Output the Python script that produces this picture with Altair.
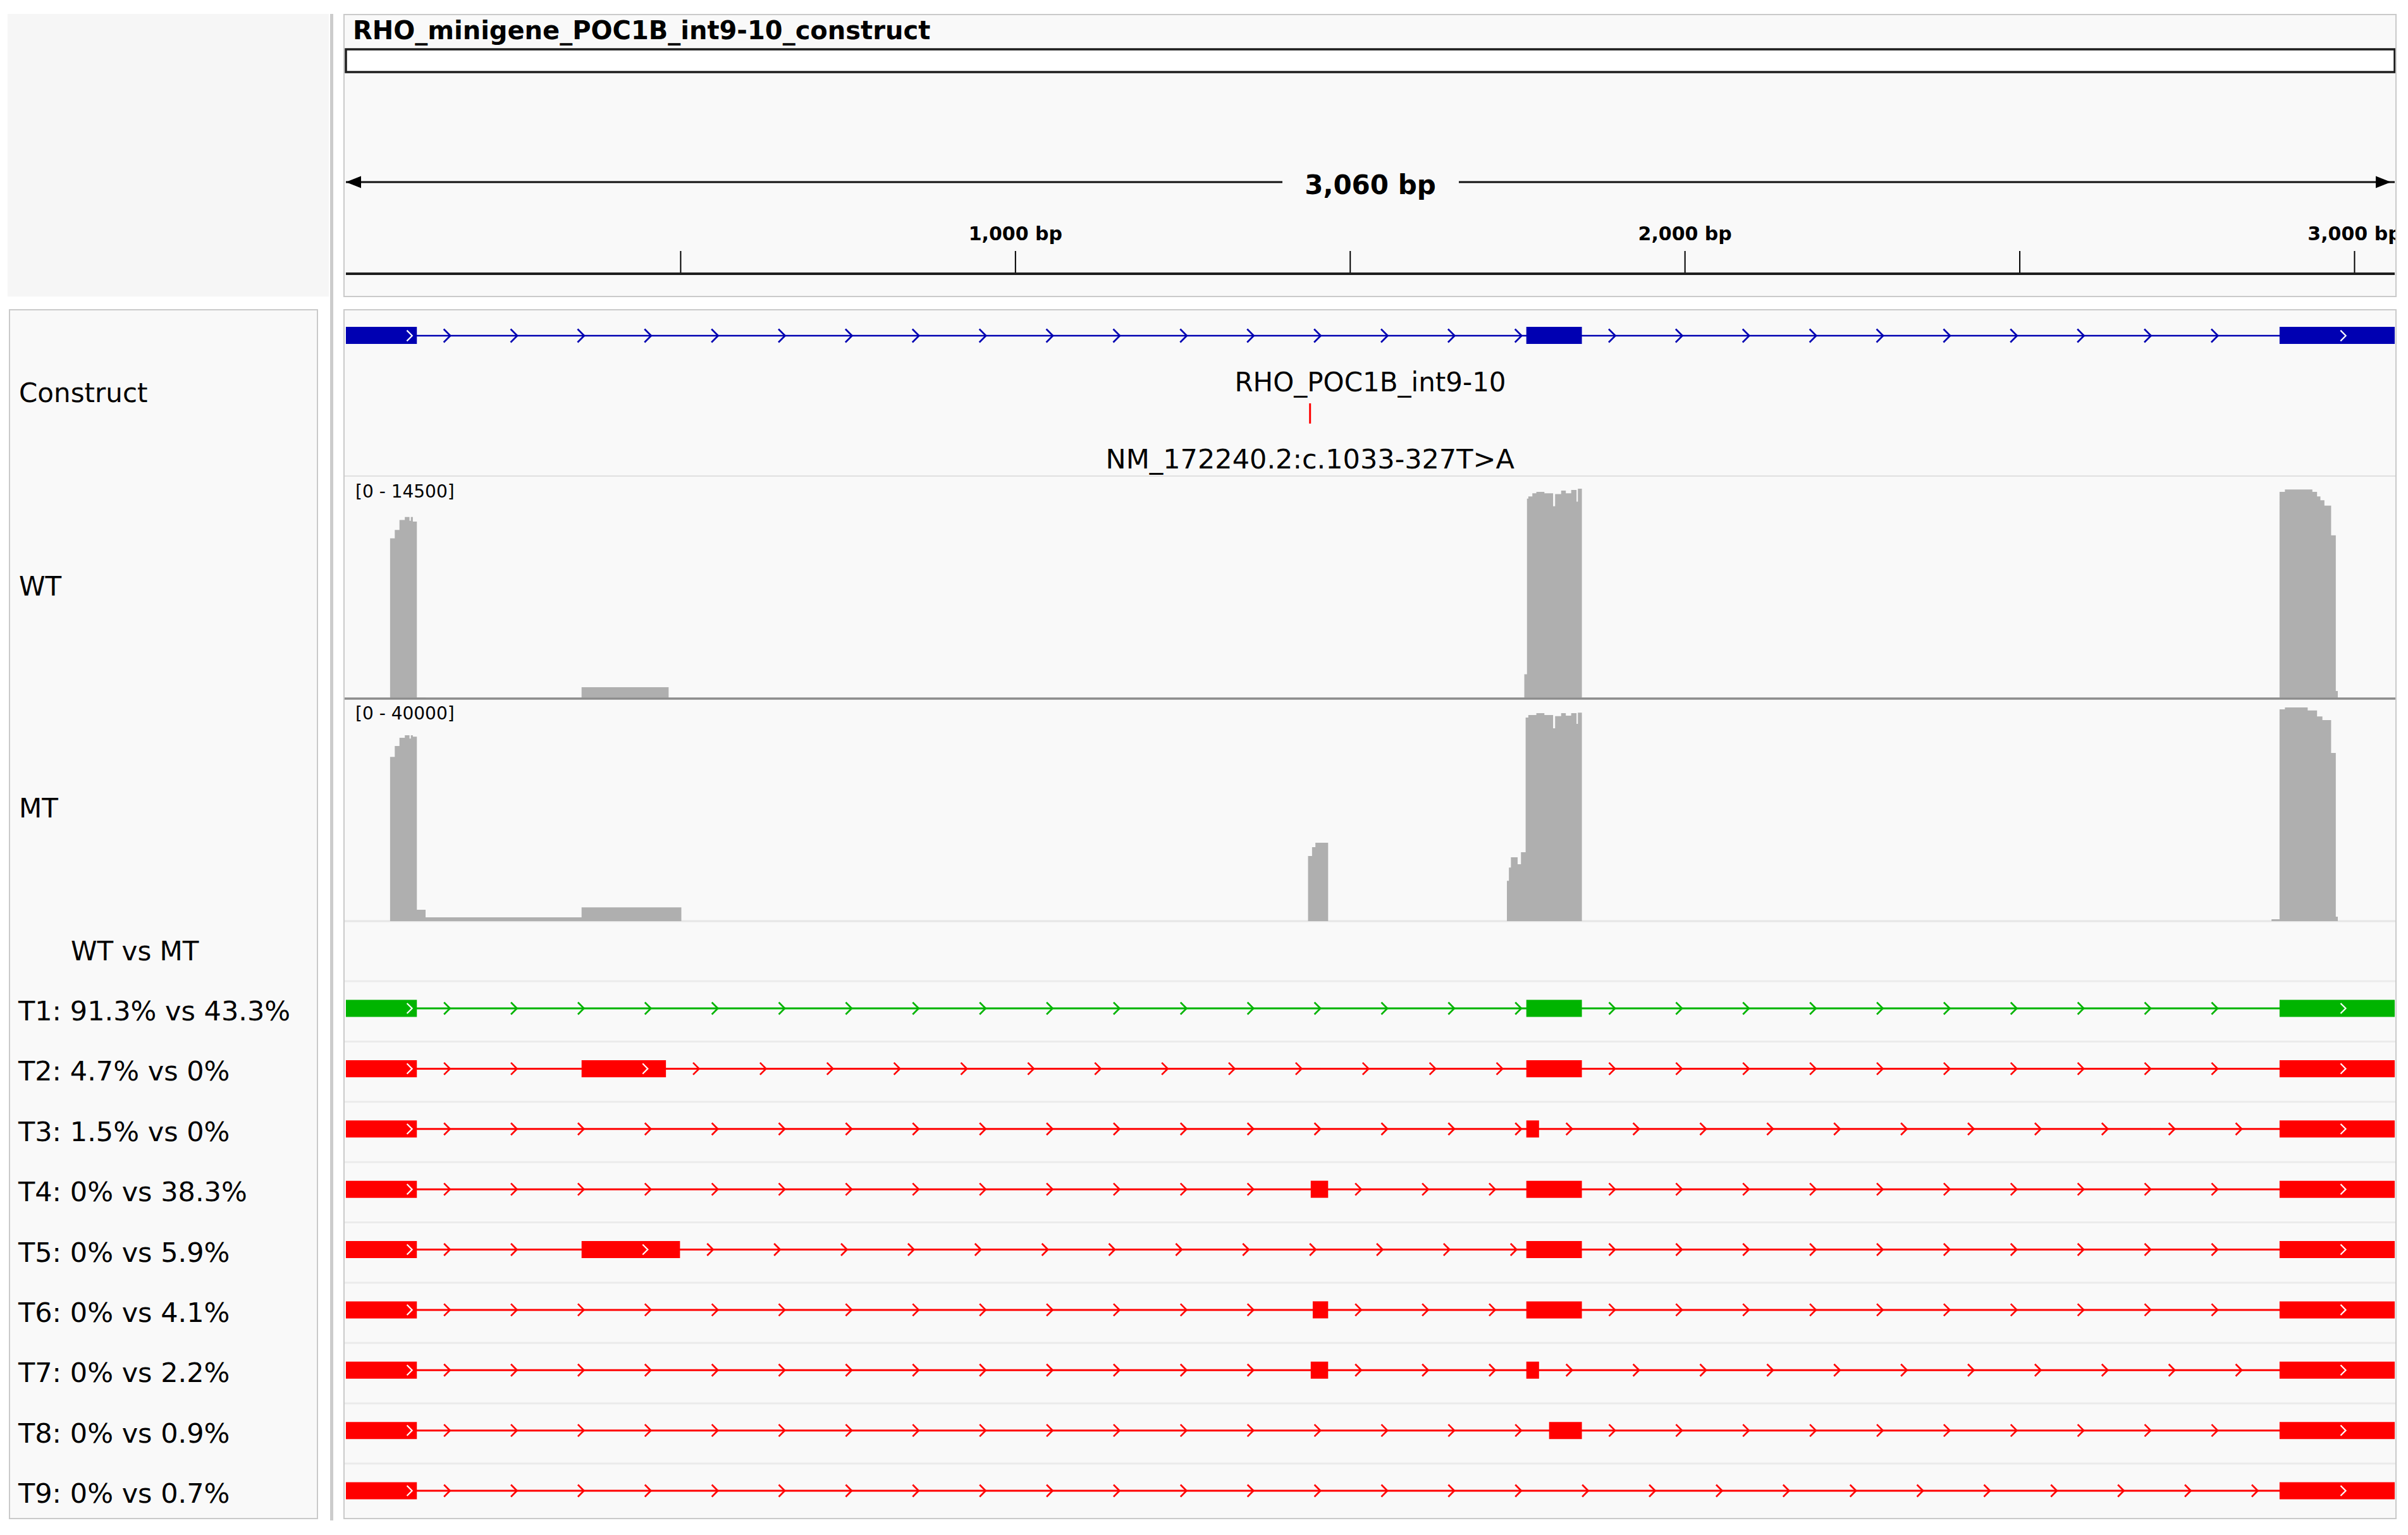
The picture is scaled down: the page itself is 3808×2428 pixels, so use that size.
import altair as alt
import pandas as pd

# ------------------------------------------------------------------ values
construct_name = "RHO_minigene_POC1B_int9-10_construct"
feature_name = "RHO_POC1B_int9-10"
variant_label = "NM_172240.2:c.1033-327T>A"
span_label = "3,060 bp"
construct_length = 3060
variant_pos = 1440

ruler_ticks = [500, 1000, 1500, 2000, 2500, 3000]
ruler_label_pos = [1000, 2000, 3000]
ruler_label_text = ["1,000 bp", "2,000 bp", "3,000 bp"]

track_labels = ["Construct", "WT", "MT"]
compare_label = "WT vs MT"

construct_exon_start = [0, 1763, 2888]
construct_exon_end = [106, 1846, 3060]

wt_range_label = "[0 - 14500]"
wt_range_max = 14500
wt_cov_start = [0, 66, 73, 80, 88, 95, 97, 100, 106, 119, 352, 482,
                1760, 1764, 1766, 1772, 1778, 1790, 1803, 1806, 1815, 1822, 1830, 1838, 1840, 1846,
                2888, 2896, 2937, 2944, 2949, 2955, 2965, 2972, 2975]
wt_cov_value = [0, 10500, 11050, 11700, 11900, 11650, 11900, 11600, 60, 45, 750, 0,
                1600, 13100, 13250, 13450, 13550, 13450, 12600, 13400, 13630, 13450, 13670, 12900, 13750, 0,
                13550, 13700, 13550, 13250, 13000, 12650, 10700, 500, 0]

mt_range_label = "[0 - 40000]"
mt_range_max = 40000
mt_cov_start = [0, 66, 73, 80, 88, 95, 97, 100, 106, 119, 352, 501,
                1437, 1443, 1448, 1467,
                1734, 1737, 1740, 1750, 1755, 1762, 1766, 1778, 1790, 1803, 1806, 1815, 1822, 1830, 1838, 1840, 1846,
                2876, 2888, 2896, 2930, 2944, 2952, 2965, 2972, 2975]
mt_cov_value = [0, 29700, 31650, 33150, 33600, 33000, 33600, 33350, 2050, 690, 2500, 0,
                11770, 13370, 14170, 0,
                7300, 9700, 11550, 10300, 12450, 36800, 37250, 37600, 37250, 34850, 37050, 37600, 37150, 37600, 35650, 37700, 0,
                340, 38300, 38630, 38100, 37000, 36350, 30400, 800, 0]

transcript_labels = ["T1: 91.3% vs 43.3%", "T2: 4.7% vs 0%", "T3: 1.5% vs 0%",
                     "T4: 0% vs 38.3%", "T5: 0% vs 5.9%", "T6: 0% vs 4.1%",
                     "T7: 0% vs 2.2%", "T8: 0% vs 0.9%", "T9: 0% vs 0.7%"]
transcript_exon_starts = [
    [0, 1763, 2888],
    [0, 352, 1763, 2888],
    [0, 1763, 2888],
    [0, 1441, 1763, 2888],
    [0, 352, 1763, 2888],
    [0, 1444, 1763, 2888],
    [0, 1441, 1763, 2888],
    [0, 1797, 2888],
    [0, 2888],
]
transcript_exon_ends = [
    [106, 1846, 3060],
    [106, 478, 1846, 3060],
    [106, 1782, 3060],
    [106, 1467, 1846, 3060],
    [106, 499, 1846, 3060],
    [106, 1467, 1846, 3060],
    [106, 1467, 1782, 3060],
    [106, 1846, 3060],
    [106, 3060],
]
transcript_status = ["canonical", "other", "other", "other", "other", "other", "other", "other", "other"]

# ------------------------------------------------------------------ styles / layout
FONT = "DejaVu Sans"
BLUE = "#0000b2"
GREEN = "#00b400"
RED = "#ff0000"
COV = "#afafaf"
PANEL = "#f9f9f9"
BORDER = "#cacaca"

W, H = 3792, 2412
OFF = 8
PX = alt.Scale(domain=[OFF, OFF + W], range=[0, W], nice=False, zero=False)
PY = alt.Scale(domain=[OFF, OFF + H], range=[0, H], nice=False, zero=False)
BPX = alt.Scale(domain=[0, construct_length], range=[547 - OFF, 3787 - OFF], nice=False, zero=False)
ROWY = alt.Scale(domain=[1, 9], range=[1595 - OFF, 2358 - OFF], nice=False, zero=False)
WTY = alt.Scale(domain=[0, wt_range_max], range=[1105 - OFF, 755 - OFF], nice=False)
MTY = alt.Scale(domain=[0, mt_range_max], range=[1457 - OFF, 1107 - OFF], nice=False)
ROW_HALF = 13.5 / 95.375

CHEV = "M-0.5,-1L0.5,0L-0.5,1"


def V(p):
    return alt.value(p - OFF)


def intron_arrows(starts, ends):
    out = []
    for a, b in zip(ends[:-1], starts[1:]):
        p = a + 45
        while p < b - 5:
            out.append(p)
            p += 100
    return out


def exon_arrows(starts, ends):
    return [s + 95 for s, e in zip(starts, ends) if e - s > 100]


def pxrect(df, **mark):
    return alt.Chart(df).mark_rect(**mark).encode(
        x=alt.X("x:Q", scale=PX, axis=None), x2="x2:Q",
        y=alt.Y("y:Q", scale=PY, axis=None), y2="y2:Q",
    )


layers = []

# ---- panel backgrounds
panels = pd.DataFrame({
    "x": [12, 522, 544, 15, 544],
    "x2": [520, 527, 3789, 502, 3789],
    "y": [22, 22, 23, 490, 490],
    "y2": [469, 2405, 469, 2402, 2402],
    "fill": ["#f6f6f6", "#cccccc", PANEL, PANEL, PANEL],
})
layers.append(alt.Chart(panels).mark_rect().encode(
    x=alt.X("x:Q", scale=PX, axis=None), x2="x2:Q",
    y=alt.Y("y:Q", scale=PY, axis=None), y2="y2:Q",
    fill=alt.Fill("fill:N", scale=None)))

# ---- header: title, box, span arrow, ruler
layers.append(alt.Chart(pd.DataFrame({"t": [construct_name]})).mark_text(
    font=FONT, fontSize=40, fontWeight="bold", align="left", baseline="alphabetic", color="#000"
).encode(text="t:N", x=V(558), y=V(62)))

span_df = pd.DataFrame({"s": [0], "e": [construct_length]})
layers.append(alt.Chart(span_df).mark_rect(fill="white", stroke="#1e1e1e", strokeWidth=3.5).encode(
    x=alt.X("s:Q", scale=BPX, axis=None), x2="e:Q", y=V(78), y2=V(114)))
layers.append(alt.Chart(span_df).mark_rule(color="#111", strokeWidth=3).encode(
    x=alt.X("s:Q", scale=BPX, axis=None), x2="e:Q", y=V(288)))
layers.append(pxrect(pd.DataFrame({"x": [2028], "x2": [2307], "y": [276], "y2": [300]}), fill=PANEL))
layers.append(alt.Chart(pd.DataFrame({"p": [construct_length / 2], "t": [span_label]})).mark_text(
    font=FONT, fontSize=42, fontWeight="bold", align="center", baseline="alphabetic", color="#000"
).encode(x=alt.X("p:Q", scale=BPX, axis=None), text="t:N", y=V(307)))
layers.append(alt.Chart(pd.DataFrame({"p": [0]})).mark_point(
    shape="M0,0L2,-0.8L2,0.8Z", filled=True, size=576, color="#000", opacity=1
).encode(x=alt.X("p:Q", scale=BPX, axis=None), y=V(288)))
layers.append(alt.Chart(pd.DataFrame({"p": [construct_length]})).mark_point(
    shape="M0,0L-2,-0.8L-2,0.8Z", filled=True, size=576, color="#000", opacity=1, xOffset=-6
).encode(x=alt.X("p:Q", scale=BPX, axis=None), y=V(288)))

layers.append(alt.Chart(pd.DataFrame({"p": ruler_ticks})).mark_rule(color="#000", strokeWidth=2).encode(
    x=alt.X("p:Q", scale=BPX, axis=None), y=V(397), y2=V(431)))
layers.append(alt.Chart(span_df).mark_rule(color="#1e1e1e", strokeWidth=4).encode(
    x=alt.X("s:Q", scale=BPX, axis=None), x2="e:Q", y=V(433)))
layers.append(alt.Chart(pd.DataFrame({"p": ruler_label_pos, "t": ruler_label_text})).mark_text(
    font=FONT, fontSize=30, fontWeight="bold", align="center", baseline="alphabetic", color="#000"
).encode(x=alt.X("p:Q", scale=BPX, axis=None), text="t:N", y=V(380)))

# ---- track separators
sep = pd.DataFrame({"y": [753, 1105, 1457], "c": ["#e0e0e0", "#8c8c8c", "#e6e6e6"], "w": [2, 3, 3]})
layers.append(alt.Chart(sep).mark_rule().encode(
    x=V(545), x2=V(3788), y=alt.Y("y:Q", scale=PY, axis=None),
    color=alt.Color("c:N", scale=None), strokeWidth=alt.StrokeWidth("w:Q", scale=None)))
row_sep = pd.DataFrame({"r": [i + 1 - 0.45 for i in range(len(transcript_labels))]})
layers.append(alt.Chart(row_sep).mark_rule(color="#ebebeb", strokeWidth=3).encode(
    x=V(545), x2=V(3788), y=alt.Y("r:Q", scale=ROWY, axis=None)))

# ---- coverage tracks
wt_df = pd.DataFrame({"pos": wt_cov_start + [construct_length], "cov": wt_cov_value + [0]})
mt_df = pd.DataFrame({"pos": mt_cov_start + [construct_length], "cov": mt_cov_value + [0]})
layers.append(alt.Chart(wt_df).mark_area(interpolate="step-after", color=COV, opacity=1).encode(
    x=alt.X("pos:Q", scale=BPX, axis=None), y=alt.Y("cov:Q", scale=WTY, axis=None)))
layers.append(alt.Chart(mt_df).mark_area(interpolate="step-after", color=COV, opacity=1).encode(
    x=alt.X("pos:Q", scale=BPX, axis=None), y=alt.Y("cov:Q", scale=MTY, axis=None)))
# redraw the darker WT baseline on top
layers.append(alt.Chart(sep.iloc[[1]]).mark_rule().encode(
    x=V(545), x2=V(3788), y=alt.Y("y:Q", scale=PY, axis=None),
    color=alt.Color("c:N", scale=None), strokeWidth=alt.StrokeWidth("w:Q", scale=None)))

rng = pd.DataFrame({"t": [wt_range_label, mt_range_label], "y": [787, 1138]})
layers.append(alt.Chart(rng).mark_text(
    font=FONT, fontSize=28, align="left", baseline="alphabetic", color="#000"
).encode(x=V(562), y=alt.Y("y:Q", scale=PY, axis=None), text="t:N"))

# ---- construct feature track
cex = pd.DataFrame({"s": construct_exon_start, "e": construct_exon_end})
layers.append(alt.Chart(span_df).mark_rule(color=BLUE, strokeWidth=2.5).encode(
    x=alt.X("s:Q", scale=BPX, axis=None), x2="e:Q", y=V(531)))
layers.append(alt.Chart(pd.DataFrame({"p": intron_arrows(construct_exon_start, construct_exon_end)})).mark_point(
    shape=CHEV, size=440, color=BLUE, strokeWidth=2.7, opacity=1
).encode(x=alt.X("p:Q", scale=BPX, axis=None), y=V(531)))
layers.append(alt.Chart(cex).mark_rect(color=BLUE).encode(
    x=alt.X("s:Q", scale=BPX, axis=None), x2="e:Q", y=V(517), y2=V(544)))
layers.append(alt.Chart(pd.DataFrame({"p": exon_arrows(construct_exon_start, construct_exon_end)})).mark_point(
    shape=CHEV, size=280, color="white", strokeWidth=2.2, opacity=1
).encode(x=alt.X("p:Q", scale=BPX, axis=None), y=V(531)))

layers.append(alt.Chart(pd.DataFrame({"p": [construct_length / 2], "t": [feature_name]})).mark_text(
    font=FONT, fontSize=42, align="center", baseline="alphabetic", color="#000"
).encode(x=alt.X("p:Q", scale=BPX, axis=None), text="t:N", y=V(619)))
layers.append(alt.Chart(pd.DataFrame({"p": [variant_pos]})).mark_rule(color=RED, strokeWidth=3).encode(
    x=alt.X("p:Q", scale=BPX, axis=None), y=V(638), y2=V(670)))
layers.append(alt.Chart(pd.DataFrame({"p": [variant_pos], "t": [variant_label]})).mark_text(
    font=FONT, fontSize=43, align="center", baseline="alphabetic", color="#000"
).encode(x=alt.X("p:Q", scale=BPX, axis=None), text="t:N", y=V(741)))

# ---- transcripts
ex_rows, line_rows, arrow_rows, white_rows = [], [], [], []
for i, (ss, ee) in enumerate(zip(transcript_exon_starts, transcript_exon_ends)):
    row = i + 1
    col = GREEN if transcript_status[i] == "canonical" else RED
    for s, e in zip(ss, ee):
        ex_rows.append({"row": row, "s": s, "e": e, "c": col})
    line_rows.append({"row": row, "s": ss[0], "e": ee[-1], "c": col})
    for p in intron_arrows(ss, ee):
        arrow_rows.append({"row": row, "p": p, "c": col})
    for p in exon_arrows(ss, ee):
        white_rows.append({"row": row, "p": p})

layers.append(alt.Chart(pd.DataFrame(line_rows)).mark_rule(strokeWidth=3).encode(
    x=alt.X("s:Q", scale=BPX, axis=None), x2="e:Q",
    y=alt.Y("row:Q", scale=ROWY, axis=None), color=alt.Color("c:N", scale=None)))
layers.append(alt.Chart(pd.DataFrame(arrow_rows)).mark_point(
    shape=CHEV, size=360, strokeWidth=2.7, opacity=1
).encode(x=alt.X("p:Q", scale=BPX, axis=None), y=alt.Y("row:Q", scale=ROWY, axis=None),
         color=alt.Color("c:N", scale=None)))
layers.append(alt.Chart(pd.DataFrame(ex_rows)).transform_calculate(
    y0=f"datum.row - {ROW_HALF}", y1=f"datum.row + {ROW_HALF}"
).mark_rect().encode(
    x=alt.X("s:Q", scale=BPX, axis=None), x2="e:Q",
    y=alt.Y("y0:Q", scale=ROWY, axis=None), y2="y1:Q",
    color=alt.Color("c:N", scale=None)))
layers.append(alt.Chart(pd.DataFrame(white_rows)).mark_point(
    shape=CHEV, size=260, color="white", strokeWidth=2.2, opacity=1
).encode(x=alt.X("p:Q", scale=BPX, axis=None), y=alt.Y("row:Q", scale=ROWY, axis=None)))

# ---- name panel labels
lab = pd.DataFrame({"t": track_labels, "y": [636, 942, 1293]})
layers.append(alt.Chart(lab).mark_text(
    font=FONT, fontSize=42, align="left", baseline="alphabetic", color="#000"
).encode(x=V(30), y=alt.Y("y:Q", scale=PY, axis=None), text="t:N"))
layers.append(alt.Chart(pd.DataFrame({"t": [compare_label]})).mark_text(
    font=FONT, fontSize=42, align="left", baseline="alphabetic", color="#000"
).encode(x=V(112), y=V(1519), text="t:N"))
layers.append(alt.Chart(pd.DataFrame({"t": transcript_labels, "row": list(range(1, len(transcript_labels) + 1))})).mark_text(
    font=FONT, fontSize=43, align="left", baseline="alphabetic", color="#000", dy=19
).encode(x=V(29), y=alt.Y("row:Q", scale=ROWY, axis=None), text="t:N"))

# ---- right mask and panel borders
layers.append(pxrect(pd.DataFrame({"x": [3789], "x2": [3800], "y": [8], "y2": [2420]}), fill="white"))
borders = pd.DataFrame({
    "x": [544, 15, 544], "x2": [3789, 502, 3789],
    "y": [23, 490, 490], "y2": [469, 2402, 2402],
})
layers.append(pxrect(borders, fillOpacity=0, stroke=BORDER, strokeWidth=2))

chart = alt.layer(*layers).resolve_scale(
    x="independent", y="independent", color="independent", fill="independent", strokeWidth="independent"
).properties(
    width=W, height=H, padding=0, autosize="none", background="white"
).configure_view(stroke=None)

chart.save("out.html", embed_options={"renderer": "svg", "actions": False})
